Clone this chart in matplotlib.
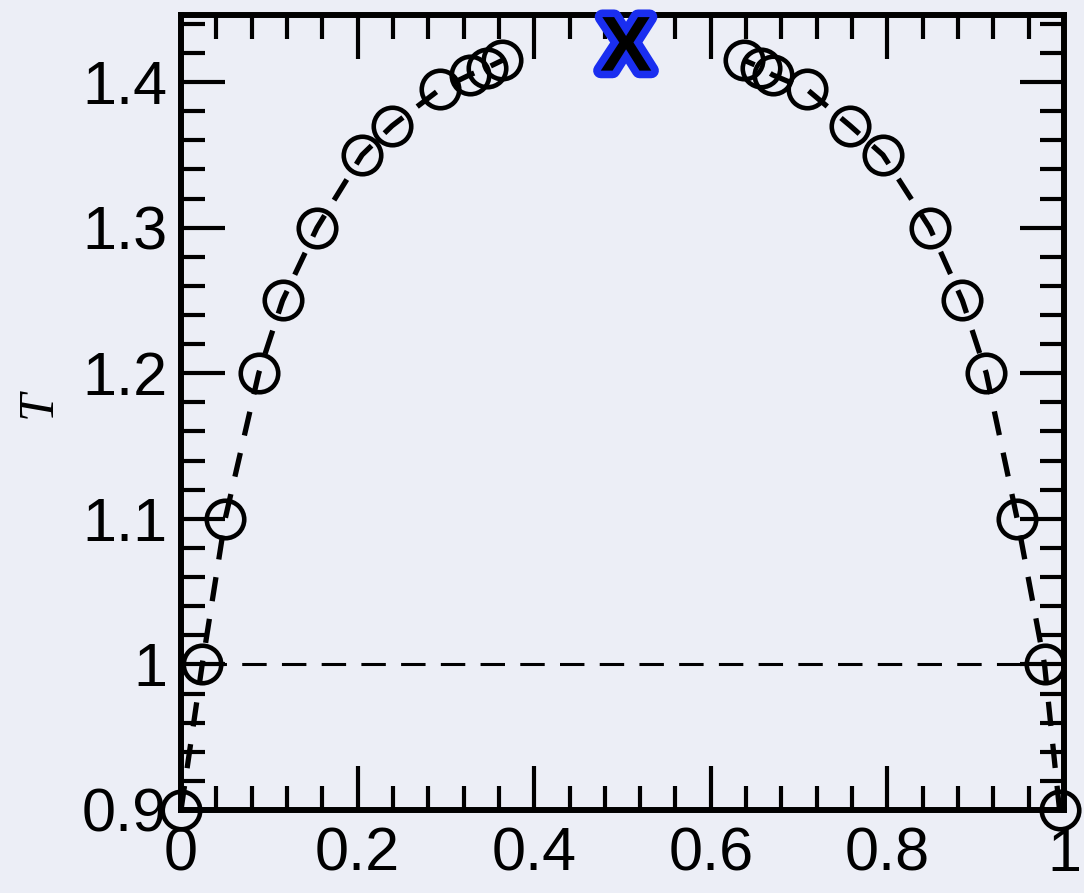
import matplotlib
matplotlib.use("Agg")
import matplotlib.pyplot as plt
from matplotlib.ticker import MultipleLocator, FormatStrFormatter
import matplotlib.patheffects as pe

plt.rcParams['font.family'] = ['Liberation Sans', 'DejaVu Sans']

# Coexistence curve: temperature vs. composition on both branches
T_vals = [0.90, 1.00, 1.10, 1.20, 1.25, 1.30, 1.35, 1.37, 1.395, 1.405, 1.41, 1.415]
x_left = [0.0, 0.024, 0.050, 0.088, 0.115, 0.154, 0.205, 0.239, 0.293, 0.327, 0.347, 0.364]
x_right = [0.995, 0.978, 0.947, 0.912, 0.885, 0.848, 0.795, 0.758, 0.709, 0.670, 0.657, 0.638]

# Critical point estimate
x_crit = 0.504
T_crit = 1.422

# Reference isotherm
T_ref = 1.0

x_ticks = [0, 0.2, 0.4, 0.6, 0.8, 1.0]
y_ticks = [0.9, 1.0, 1.1, 1.2, 1.3, 1.4]

bg = '#eceef6'
fig = plt.figure(figsize=(10.84, 8.93), dpi=100, facecolor=bg)
ax = fig.add_axes([0.167, 0.093, 0.8145, 0.890])
ax.set_facecolor(bg)

line_kw = dict(color='black', lw=3.8, dashes=(4.6, 3.4), marker='o', ms=27,
               mfc='none', mec='black', mew=3.3, clip_on=False, zorder=3)
ax.plot(x_left, T_vals, **line_kw)
ax.plot(x_right, T_vals, **line_kw)

# Horizontal isotherm between the two branches at T = 1
ax.plot([x_left[1], x_right[1]], [T_ref, T_ref], color='black', lw=2.2,
        dashes=(8, 5), zorder=2)

ax.text(x_crit, T_crit, 'X', ha='center', va='center', fontsize=56,
        fontweight='bold', color='black', zorder=5, clip_on=False,
        path_effects=[pe.withStroke(linewidth=11, foreground='#1a2ef0')])

ax.set_xlim(0, 1)
ax.set_ylim(0.9, 1.446)
ax.xaxis.set_major_locator(MultipleLocator(0.2))
ax.xaxis.set_minor_locator(MultipleLocator(0.04))
ax.yaxis.set_major_locator(MultipleLocator(0.1))
ax.yaxis.set_minor_locator(MultipleLocator(0.02))
ax.set_xticks(x_ticks)
ax.set_yticks(y_ticks)
ax.xaxis.set_major_formatter(FormatStrFormatter('%g'))
ax.yaxis.set_major_formatter(FormatStrFormatter('%g'))

ax.tick_params(which='both', direction='in', top=True, right=True,
               width=3, colors='black')
ax.tick_params(which='major', length=32, labelsize=44)
ax.tick_params(which='minor', length=17)
ax.tick_params(axis='x', which='major', pad=12)
ax.tick_params(axis='y', which='major', pad=10)

for s in ax.spines.values():
    s.set_linewidth(4.3)
    s.set_color('black')

ax.set_ylabel('T', fontsize=36, family='Liberation Serif', style='italic')
ax.yaxis.set_label_coords(-0.135, 0.51)

fig.savefig('out.png', dpi=100, facecolor=bg)
